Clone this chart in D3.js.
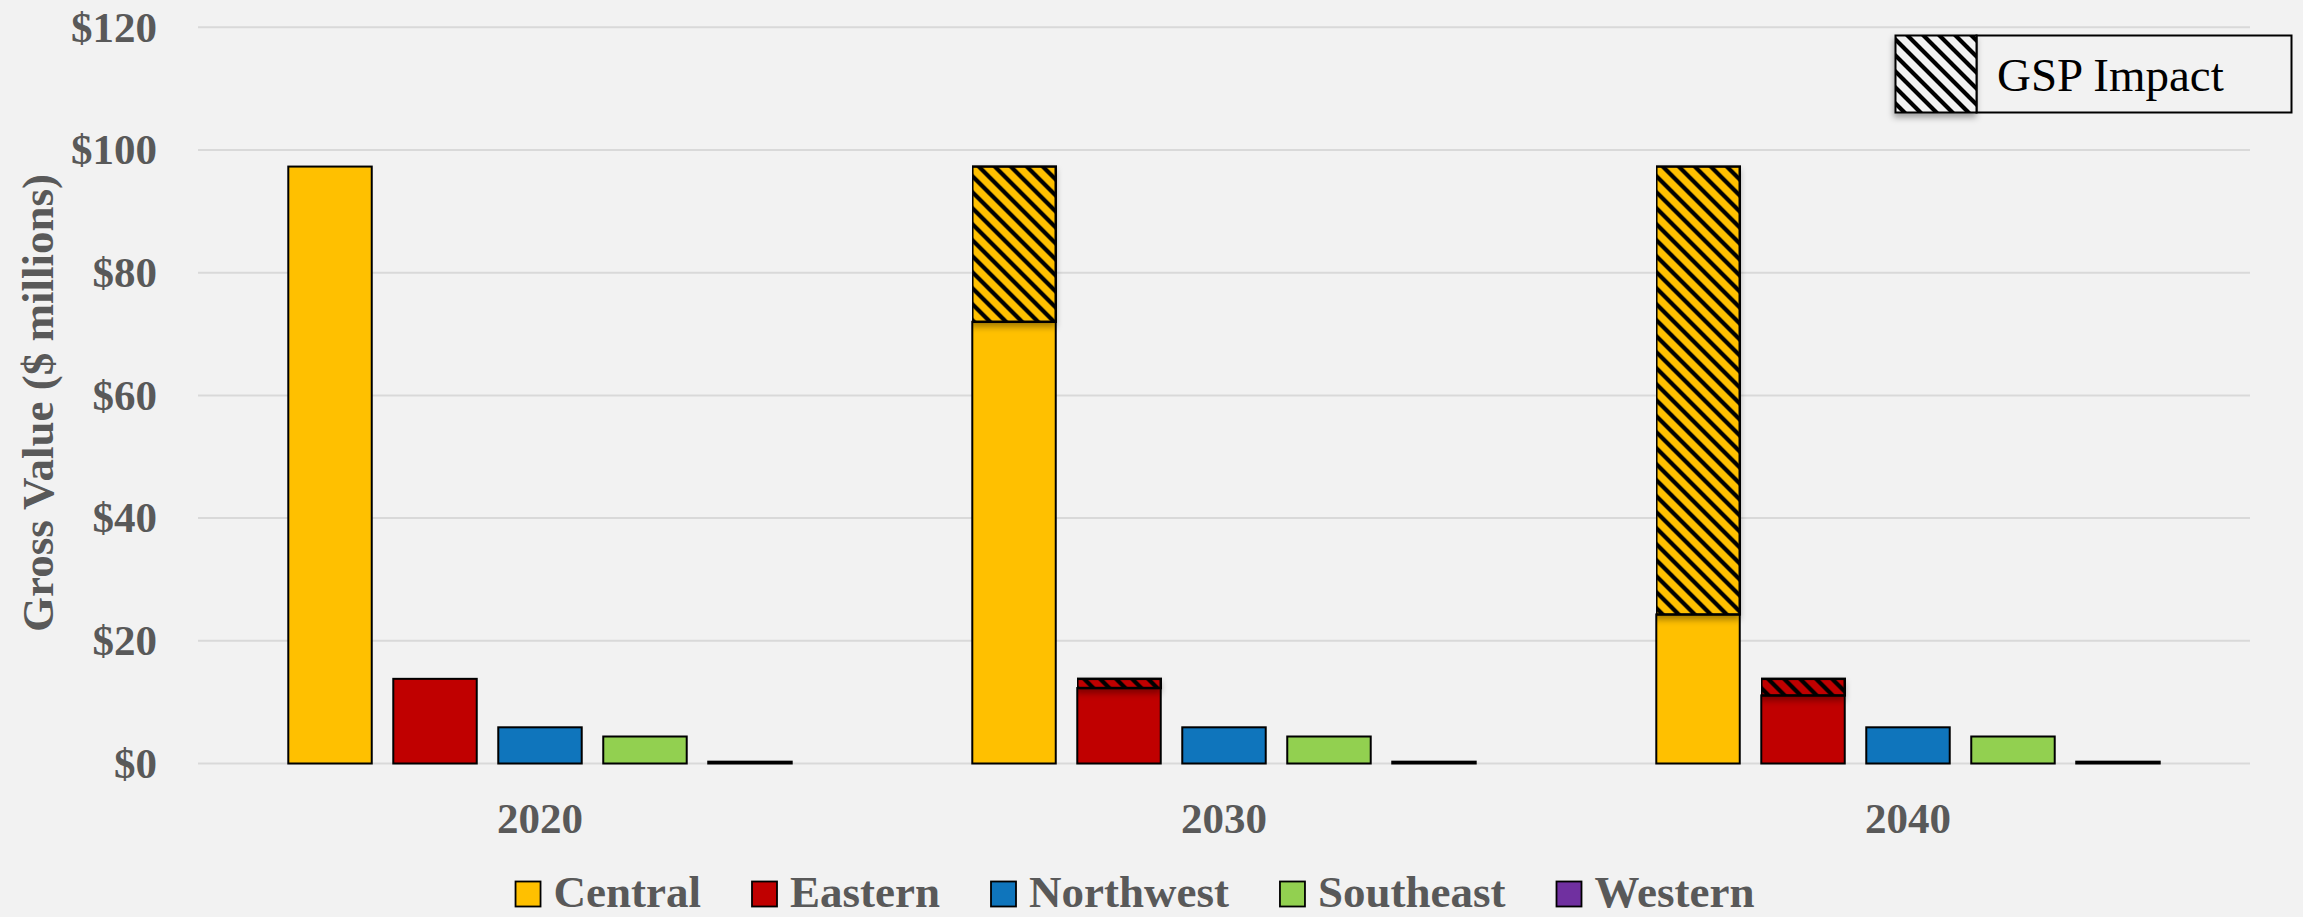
<!DOCTYPE html>
<html>
<head>
<meta charset="utf-8">
<script src="https://cdn.jsdelivr.net/npm/d3@7"></script>
<style>
  html, body { margin: 0; padding: 0; background: #F2F2F2; }
  svg { display: block; font-family: 'Liberation Serif', 'Times New Roman', serif; }
</style>
</head>
<body>
<svg id="chart" width="2303" height="917"></svg>
<script>
'use strict';

//  --------------------------------  DATA  --------------------------------  //

const years = ['2020', '2030', '2040'];
const regions = ['Central', 'Eastern', 'Northwest', 'Southeast', 'Western'];
const regionColors = ['#FFC000', '#C00000', '#0F75BC', '#92D050', '#7030A0'];

// Solid part of each bar, one value per region ($ millions)
const base2020 = [97.3, 13.8, 5.9, 4.4, 0.3];
const base2030 = [72.0, 12.3, 5.9, 4.4, 0.3];
const base2040 = [24.3, 11.1, 5.9, 4.4, 0.3];

// Hatched GSP impact stacked on top of the solid part
const gsp2020 = [0, 0, 0, 0, 0];
const gsp2030 = [25.3, 1.5, 0, 0, 0];
const gsp2040 = [73.0, 2.7, 0, 0, 0];

const yTicks = [0, 20, 40, 60, 80, 100, 120];
const yTitle = 'Gross Value ($ millions)';
const gspLabel = 'GSP Impact';


class GrossValueChart {
  constructor() {
    this._svg = d3.select('#chart');
    this._plot = { left: 198, right: 2250, top: 27.3, bottom: 763.5 };
    this._textColor = '#595959';

    this._init();
    this._drawGrid();
    this._drawBars();
    this._drawAxes();
    this._drawLegend();
    this._drawGspKey();
  }

  _init() {
    this._x0 = d3.scaleBand()
      .domain(years)
      .range([this._plot.left, this._plot.right])
      .padding(0);

    this._x1 = d3.scaleBand()
      .domain(regions)
      .range([0, this._x0.bandwidth()])
      .paddingInner(0.205)
      .paddingOuter(0.86);

    this._y = d3.scaleLinear()
      .domain([0, 120])
      .range([this._plot.bottom, this._plot.top]);

    this._color = d3.scaleOrdinal().domain(regions).range(regionColors);

    this._defs = this._svg.append('defs');
    regions.forEach((r, i) => this._hatch(`hatch-${i}`, regionColors[i]));
    this._hatch('hatch-key', '#F2F2F2');

    // Soft shadow cast by the hatched segments
    this._defs.append('filter')
      .attr('id', 'shadow')
      .attr('filterUnits', 'userSpaceOnUse')
      .attr('x', 0).attr('y', 0).attr('width', 2303).attr('height', 917)
      .append('feDropShadow')
      .attr('dx', -1).attr('dy', 4)
      .attr('stdDeviation', 3)
      .attr('flood-color', '#000')
      .attr('flood-opacity', 0.35);
  }

  _hatch(id, background) {
    const p = this._defs.append('pattern')
      .attr('id', id)
      .attr('patternUnits', 'userSpaceOnUse')
      .attr('width', 16)
      .attr('height', 16);
    p.append('rect').attr('width', 16).attr('height', 16).attr('fill', background);
    p.append('path')
      .attr('d', 'M-4,-4L20,20M-4,12L4,20M12,-4L20,4')
      .attr('stroke', '#000')
      .attr('stroke-width', 4.2);
  }

  _drawGrid() {
    this._svg.append('g')
      .selectAll('line')
      .data(yTicks)
      .enter()
      .append('line')
      .attr('x1', this._plot.left)
      .attr('x2', this._plot.right)
      .attr('y1', d => this._y(d))
      .attr('y2', d => this._y(d))
      .attr('stroke', '#D9D9D9')
      .attr('stroke-width', 2);
  }

  _drawBars() {
    const base = [base2020, base2030, base2040];
    const gsp = [gsp2020, gsp2030, gsp2040];

    const rows = [];
    years.forEach((year, yi) => {
      regions.forEach((region, ri) => {
        rows.push({ year, region, ri, base: base[yi][ri], gsp: gsp[yi][ri] });
      });
    });

    const groups = this._svg.append('g')
      .selectAll('g')
      .data(rows)
      .enter()
      .append('g')
      .attr('transform', d => `translate(${this._x0(d.year) + this._x1(d.region)},0)`);

    groups.append('rect')
      .attr('x', 0)
      .attr('width', this._x1.bandwidth())
      .attr('y', d => this._y(d.base))
      .attr('height', d => this._y(0) - this._y(d.base))
      .attr('fill', d => this._color(d.region))
      .attr('stroke', '#000')
      .attr('stroke-width', 2);

    groups.filter(d => d.gsp > 0)
      .append('rect')
      .attr('x', 0)
      .attr('width', this._x1.bandwidth())
      .attr('y', d => this._y(d.base + d.gsp))
      .attr('height', d => this._y(d.base) - this._y(d.base + d.gsp))
      .attr('fill', d => `url(#hatch-${d.ri})`)
      .attr('stroke', '#000')
      .attr('stroke-width', 2.5)
      .attr('filter', 'url(#shadow)');
  }

  _drawAxes() {
    const yAxis = this._svg.append('g')
      .attr('transform', `translate(${this._plot.left},0)`)
      .call(d3.axisLeft(this._y).tickValues(yTicks).tickFormat(d => `$${d}`).tickSize(0).tickPadding(41));

    const xAxis = this._svg.append('g')
      .attr('transform', `translate(0,${this._plot.bottom})`)
      .call(d3.axisBottom(this._x0).tickSize(0).tickPadding(39));

    [yAxis, xAxis].forEach(axis => {
      axis.select('.domain').remove();
      axis.selectAll('text')
        .attr('fill', this._textColor)
        .style('font-family', "'Liberation Serif', serif")
        .style('font-weight', 'bold')
        .style('font-size', '43px');
    });

    this._svg.append('text')
      .attr('transform', 'translate(53,403) rotate(-90)')
      .attr('text-anchor', 'middle')
      .attr('fill', this._textColor)
      .style('font-weight', 'bold')
      .style('font-size', '45px')
      .text(yTitle);
  }

  _drawLegend() {
    const legend = this._svg.append('g');
    const items = legend.selectAll('g')
      .data(regions)
      .enter()
      .append('g');

    items.append('rect')
      .attr('y', 881.5)
      .attr('width', 25)
      .attr('height', 25)
      .attr('fill', d => this._color(d))
      .attr('stroke', '#000')
      .attr('stroke-width', 1.8);

    // baseline kept a little above the bottom edge so descents are not clipped
    items.append('text')
      .attr('x', 38)
      .attr('y', 907)
      .attr('fill', this._textColor)
      .style('font-weight', 'bold')
      .style('font-size', '45px')
      .text(d => d);

    // Lay the items out from their measured widths, centred like the original
    let offset = 0;
    const widths = [];
    items.each(function () {
      widths.push(38 + d3.select(this).select('text').node().getComputedTextLength());
    });
    const total = d3.sum(widths) + 51 * (widths.length - 1);
    const start = 1135 - total / 2;
    items.attr('transform', (d, i) => {
      const t = `translate(${start + offset},0)`;
      offset += widths[i] + 51;
      return t;
    });
  }

  _drawGspKey() {
    const key = this._svg.append('g');
    key.append('rect')
      .attr('x', 1976.5).attr('y', 35.5)
      .attr('width', 315).attr('height', 77)
      .attr('fill', '#F2F2F2')
      .attr('stroke', '#000')
      .attr('stroke-width', 2);

    key.append('rect')
      .attr('x', 1895.5).attr('y', 35.5)
      .attr('width', 81).attr('height', 77)
      .attr('fill', 'url(#hatch-key)')
      .attr('stroke', '#000')
      .attr('stroke-width', 2)
      .attr('filter', 'url(#shadow)');

    key.append('text')
      .attr('x', 1997)
      .attr('y', 91)
      .attr('fill', '#000')
      .style('font-size', '47px')
      .text(gspLabel);
  }
}

new GrossValueChart();
</script>
</body>
</html>
